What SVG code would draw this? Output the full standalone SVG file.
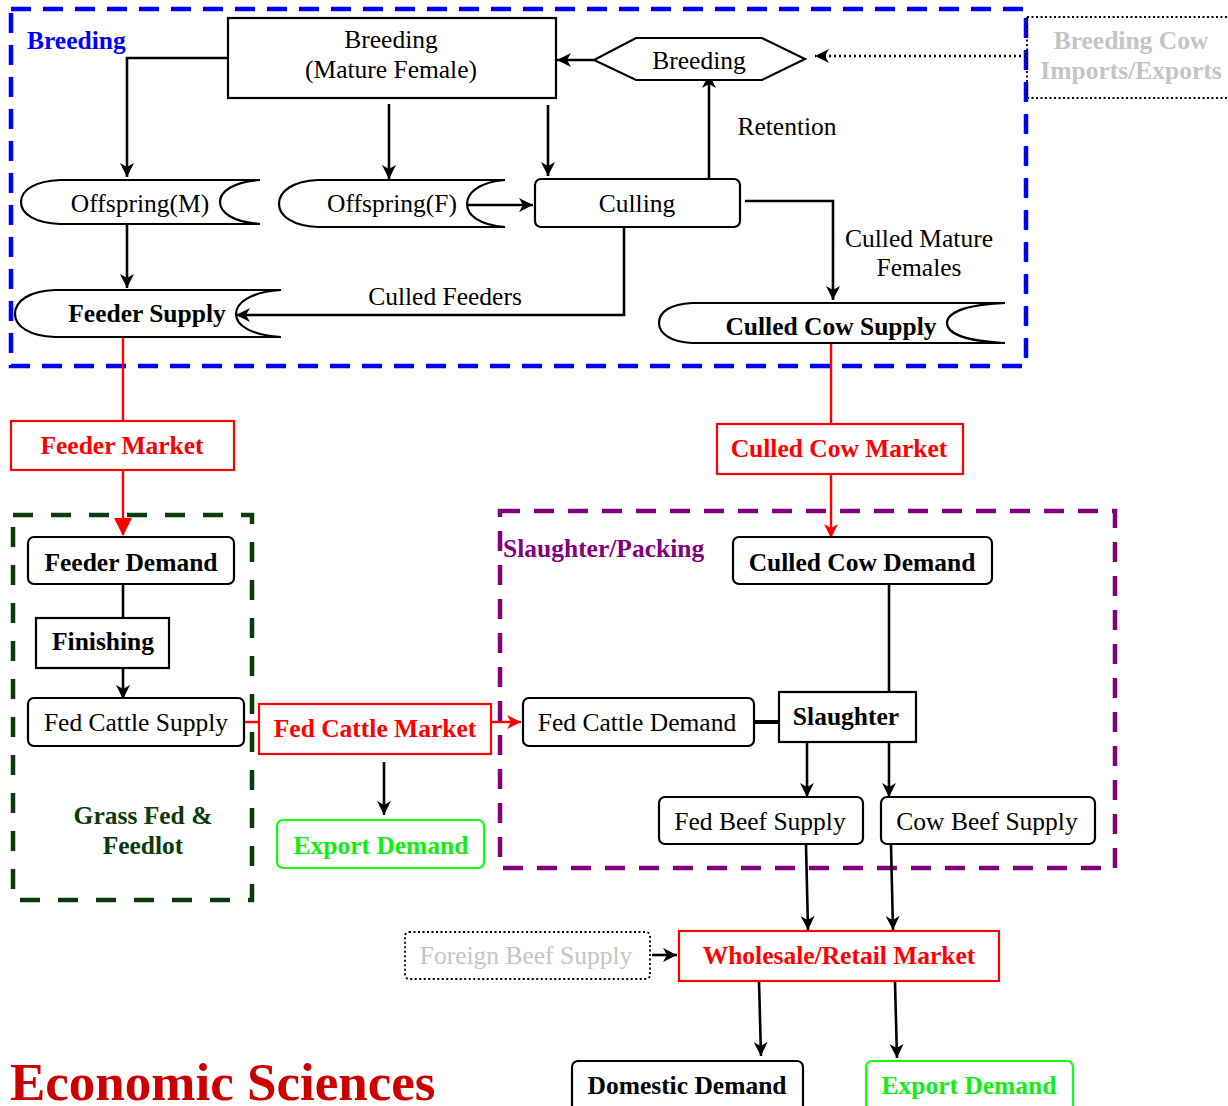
<svg xmlns="http://www.w3.org/2000/svg" width="1228" height="1106" viewBox="0 0 1228 1106">
<style>
text{font-family:"Liberation Serif","Times New Roman",serif;font-size:25.5px;text-anchor:middle}
.b{font-weight:bold}
.box{fill:#fff;stroke:#000;stroke-width:2.2}
.rbox{fill:#fff;stroke:#f00;stroke-width:2.2}
.gbox{fill:#fff;stroke:#1f1;stroke-width:2.2}
.c{fill:none;stroke:#000;stroke-width:2.6}
.cr{fill:none;stroke:#f00;stroke-width:2.4}
.red{fill:#f00}
.grn{fill:#1e1}
.gray{fill:#c4c4c4}
</style>
<defs>
<marker id="a" markerUnits="userSpaceOnUse" viewBox="0 0 16 16" markerWidth="16" markerHeight="16" refX="15" refY="8" orient="auto">
<path d="M1,1 L15,8 L1,15 L5,8 z" fill="#000"/>
</marker>
<marker id="ar" markerUnits="userSpaceOnUse" viewBox="0 0 16 16" markerWidth="16" markerHeight="16" refX="15" refY="8" orient="auto">
<path d="M1,1 L15,8 L1,15 L5,8 z" fill="#f00"/>
</marker>
<marker id="at" markerUnits="userSpaceOnUse" viewBox="0 0 18 18" markerWidth="18" markerHeight="18" refX="17" refY="9" orient="auto">
<path d="M0,0 L18,9 L0,18 z" fill="#f00"/>
</marker>
</defs>

<!-- group containers -->
<g id="breeding-group">
<rect x="11" y="9" width="1015" height="357" fill="none" stroke="#00f" stroke-width="4.5" stroke-dasharray="20 12"/>
<text x="27" y="49" class="b" style="text-anchor:start;fill:#00f">Breeding</text>
</g>
<g id="feedlot-group">
<rect x="13" y="515" width="239" height="385" fill="none" stroke="#0b3a0b" stroke-width="4.5" stroke-dasharray="20 18"/>
<text x="143" y="824" class="b" style="fill:#0a3a0a">Grass Fed &amp;</text>
<text x="143" y="854" class="b" style="fill:#0a3a0a">Feedlot</text>
</g>
<g id="packing-group">
<rect x="500" y="511" width="615" height="357" fill="none" stroke="#800080" stroke-width="4.5" stroke-dasharray="20 14"/>
<text x="503" y="557" class="b" style="text-anchor:start;fill:#800080">Slaughter/Packing</text>
</g>

<!-- connectors -->
<g id="connectors">
<path class="c" d="M228,58 H127 V177" marker-end="url(#a)"/>
<path class="c" d="M389,104 V179" marker-end="url(#a)"/>
<path class="c" d="M548,105 V176" marker-end="url(#a)"/>
<path class="c" d="M594,60 H557" marker-end="url(#a)"/>
<path d="M1026,56 H815" fill="none" stroke="#000" stroke-width="2.4" stroke-dasharray="2 3" marker-end="url(#a)"/>
<path class="c" d="M467,205 H533" marker-end="url(#a)"/>
<path class="c" d="M709,179 V74" marker-end="url(#a)"/>
<path class="c" d="M745,201 H833 V300" marker-end="url(#a)"/>
<path class="c" d="M624,223 V315 H236" marker-end="url(#a)"/>
<path class="c" d="M127,224 V288" marker-end="url(#a)"/>
<path class="cr" d="M123,333 V421"/>
<path class="cr" d="M123,471 V535" marker-end="url(#at)"/>
<path class="c" d="M123,584 V618"/>
<path class="c" d="M123,668 V699" marker-end="url(#a)"/>
<path class="cr" d="M244,722 H259"/>
<path class="cr" d="M491,722 H521" marker-end="url(#ar)"/>
<path class="c" d="M384,762 V815" marker-end="url(#a)"/>
<path class="cr" d="M831,339 V425"/>
<path class="cr" d="M831,474 V538" marker-end="url(#ar)"/>
<path class="c" d="M889,584 V693"/>
<path d="M754,722 H779" fill="none" stroke="#000" stroke-width="4"/>
<path class="c" d="M807,742 V797" marker-end="url(#a)"/>
<path class="c" d="M889,742 V797" marker-end="url(#a)"/>
<path class="c" d="M806,845 L808,930" marker-end="url(#a)"/>
<path class="c" d="M891,845 L893,930" marker-end="url(#a)"/>
<path class="c" d="M652,955 H677" marker-end="url(#a)"/>
<path class="c" d="M759,981 L761,1056" marker-end="url(#a)"/>
<path class="c" d="M895,982 L897,1058" marker-end="url(#a)"/>
<text x="787" y="135">Retention</text>
<text x="919" y="247">Culled Mature</text>
<text x="919" y="276">Females</text>
<text x="445" y="305">Culled Feeders</text>
</g>

<!-- nodes -->
<g id="breeding-mature">
<rect class="box" x="228" y="18" width="328" height="80"/>
<text x="391" y="48">Breeding</text>
<text x="391" y="78">(Mature Female)</text>
</g>
<g id="breeding-hex">
<path class="box" d="M594,60 L636,38 L762,38 L805,59 L762,80 L636,80 Z"/>
<text x="699" y="69">Breeding</text>
</g>
<g id="imports-exports">
<path d="M1027,17 H1228 M1027,98 H1228 M1027,17 V98" fill="none" stroke="#000" stroke-width="1.8" stroke-dasharray="2 2.5"/>
<text x="1131" y="49" class="b gray">Breeding Cow</text>
<text x="1131" y="79" class="b gray">Imports/Exports</text>
</g>
<g id="offspring-m">
<path class="box" d="M60,180 H260 C232,182 220,192 220,202 C220,212 232,222 260,224 H60 C35,223 21,214 21,202 C21,190 35,181 60,180 Z"/>
<text x="140" y="212">Offspring(M)</text>
</g>
<g id="offspring-f">
<path class="box" d="M318,180 H505 C479,182 467,193 467,204 C467,215 479,225 505,227 H318 C293,226 279,216 279,204 C279,191 293,181 318,180 Z"/>
<text x="392" y="212">Offspring(F)</text>
</g>
<g id="culling">
<rect class="box" x="535" y="179" width="205" height="48" rx="6"/>
<text x="637" y="212">Culling</text>
</g>
<g id="feeder-supply">
<path class="box" d="M55,290 H281 C250,292 236,303 236,314 C236,325 250,335 281,337 H55 C29,336 15,326 15,314 C15,301 29,291 55,290 Z"/>
<text x="147" y="322" class="b">Feeder Supply</text>
</g>
<g id="culled-cow-supply">
<path class="box" d="M692,303 H1005 C961,305 947,314 947,323 C947,332 961,341 1005,343 H692 C670,342 659,333 659,323 C659,312 670,304 692,303 Z"/>
<text x="831" y="335" class="b">Culled Cow Supply</text>
</g>
<g id="feeder-market">
<rect class="rbox" x="11" y="421" width="223" height="49"/>
<text x="122" y="454" class="b red">Feeder Market</text>
</g>
<g id="culled-cow-market">
<rect class="rbox" x="717" y="424" width="246" height="50"/>
<text x="839" y="457" class="b red">Culled Cow Market</text>
</g>
<g id="feeder-demand">
<rect class="box" x="28" y="537" width="206" height="47" rx="6"/>
<text x="131" y="571" class="b">Feeder Demand</text>
</g>
<g id="finishing">
<rect class="box" x="36" y="618" width="133" height="50"/>
<text x="103" y="650" class="b">Finishing</text>
</g>
<g id="fed-cattle-supply">
<rect class="box" x="28" y="698" width="216" height="48" rx="6"/>
<text x="136" y="731">Fed Cattle Supply</text>
</g>
<g id="fed-cattle-market">
<rect class="rbox" x="259" y="704" width="232" height="50"/>
<text x="375" y="737" class="b red">Fed Cattle Market</text>
</g>
<g id="export-demand-1">
<rect class="gbox" x="277" y="820" width="207" height="48" rx="6"/>
<text x="381" y="854" class="b grn">Export Demand</text>
</g>
<g id="culled-cow-demand">
<rect class="box" x="733" y="537" width="259" height="47" rx="6"/>
<text x="862" y="571" class="b">Culled Cow Demand</text>
</g>
<g id="fed-cattle-demand">
<rect class="box" x="523" y="698" width="231" height="48" rx="6"/>
<text x="637" y="731">Fed Cattle Demand</text>
</g>
<g id="slaughter">
<rect class="box" x="779" y="692" width="137" height="50"/>
<text x="846" y="725" class="b">Slaughter</text>
</g>
<g id="fed-beef-supply">
<rect class="box" x="659" y="797" width="204" height="47" rx="6"/>
<text x="760" y="830">Fed Beef Supply</text>
</g>
<g id="cow-beef-supply">
<rect class="box" x="881" y="797" width="214" height="47" rx="6"/>
<text x="987" y="830">Cow Beef Supply</text>
</g>
<g id="foreign-beef-supply">
<rect x="405" y="932" width="245" height="47" rx="4" fill="#fff" stroke="#000" stroke-width="1.8" stroke-dasharray="2 2.5"/>
<text x="526" y="964" class="gray">Foreign Beef Supply</text>
</g>
<g id="wholesale-retail">
<rect class="rbox" x="679" y="931" width="320" height="50"/>
<text x="839" y="964" class="b red">Wholesale/Retail Market</text>
</g>
<g id="domestic-demand">
<rect class="box" x="572" y="1061" width="231" height="60" rx="6"/>
<text x="687" y="1094" class="b">Domestic Demand</text>
</g>
<g id="export-demand-2">
<rect class="gbox" x="866" y="1061" width="207" height="60" rx="6"/>
<text x="969" y="1094" class="b grn">Export Demand</text>
</g>
<text x="10" y="1100" class="b" style="text-anchor:start;font-size:53px;fill:#cc0000">Economic Sciences</text>
</svg>
